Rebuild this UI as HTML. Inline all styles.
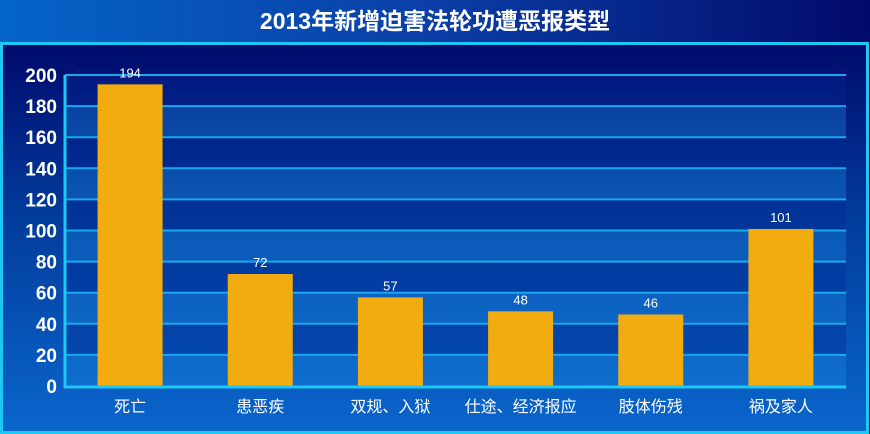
<!DOCTYPE html>
<html><head><meta charset="utf-8"><style>
html,body{margin:0;padding:0;width:870px;height:434px;overflow:hidden;background:#0a3a9a}
svg{display:block}
text{font-family:"Liberation Sans","Noto Sans CJK SC",sans-serif}
</style></head><body>
<svg id="chart" width="870" height="434" xmlns="http://www.w3.org/2000/svg">
<defs>
<linearGradient id="hdr" x1="0" y1="0" x2="1" y2="0">
<stop offset="0" stop-color="#0464c8"/><stop offset="0.5" stop-color="#0a3ea6"/><stop offset="1" stop-color="#020a6a"/>
</linearGradient>
<linearGradient id="pnl" x1="0" y1="0" x2="0" y2="1">
<stop offset="0" stop-color="#000a6c"/><stop offset="0.45" stop-color="#023c9c"/><stop offset="1" stop-color="#0a66cc"/>
</linearGradient>
</defs>
<rect x="0" y="0" width="870" height="434" fill="url(#hdr)"/>
<text x="435" y="29" text-anchor="middle" fill="#fff" font-size="23" font-weight="bold">2013年新增迫害法轮功遭恶报类型</text>
<rect x="1.5" y="43.5" width="866" height="389" fill="url(#pnl)" stroke="#1ec8f4" stroke-width="3"/>
<g id="plot"></g>
</svg>
<script>
const categories=["死亡","患恶疾","双规、入狱","仕途、经济报应","肢体伤残","祸及家人"];
const values=[194,72,57,48,46,101];
const yTicks=[0,20,40,60,80,100,120,140,160,180,200];
const X0=65,X1=846,Y0=386,Y1=75,YMAX=200;
const y=v=>Y0-(v/YMAX)*(Y0-Y1);
const bw=(X1-X0)/categories.length;
const x=i=>X0+bw*(i+0.5);
const NS="http://www.w3.org/2000/svg";
const g=document.getElementById('plot');
function mk(t,a){const e=document.createElementNS(NS,t);for(const k in a)e.setAttribute(k,a[k]);g.appendChild(e);return e;}
for(let i=0;i<yTicks.length-1;i++){
 const b=mk('rect',{x:X0,y:y(yTicks[i+1]),width:X1-X0,height:y(yTicks[i])-y(yTicks[i+1]),fill:i%2===0?'rgba(30,140,230,0.35)':'rgba(0,40,150,0.35)'});
 
 
}
yTicks.forEach(t=>{
 if(t>0){const l=mk('line',{x1:X0,x2:X1,y1:y(t),y2:y(t),stroke:'#1aa8ec','stroke-width':2});
 
 }
 const tx=mk('text',{x:57,y:y(t)+7,'text-anchor':'end',fill:'#fff','font-size':19,'font-weight':'bold'});
 tx.textContent=t;
 
 
});
categories.forEach((c,i)=>{
 const r=mk('rect',{x:x(i)-32.5,y:y(values[i]),width:65,height:Y0-y(values[i]),fill:'#f2ac10'});
 
 
 const v=mk('text',{x:x(i),y:y(values[i])-7,'text-anchor':'middle',fill:'#fff','font-size':13});
 v.textContent=values[i];
 
 
 const l=mk('text',{x:x(i),y:412,'text-anchor':'middle',fill:'#fff','font-size':16});
 l.textContent=c;
 
 
});
const ya=mk('line',{x1:X0,x2:X0,y1:Y1,y2:Y0+1,stroke:'#1ec8f4','stroke-width':3});


const xa=mk('line',{x1:X0-1.5,x2:X1,y1:Y0+1,y2:Y0+1,stroke:'#1ec8f4','stroke-width':3});


</script>
</body></html>
